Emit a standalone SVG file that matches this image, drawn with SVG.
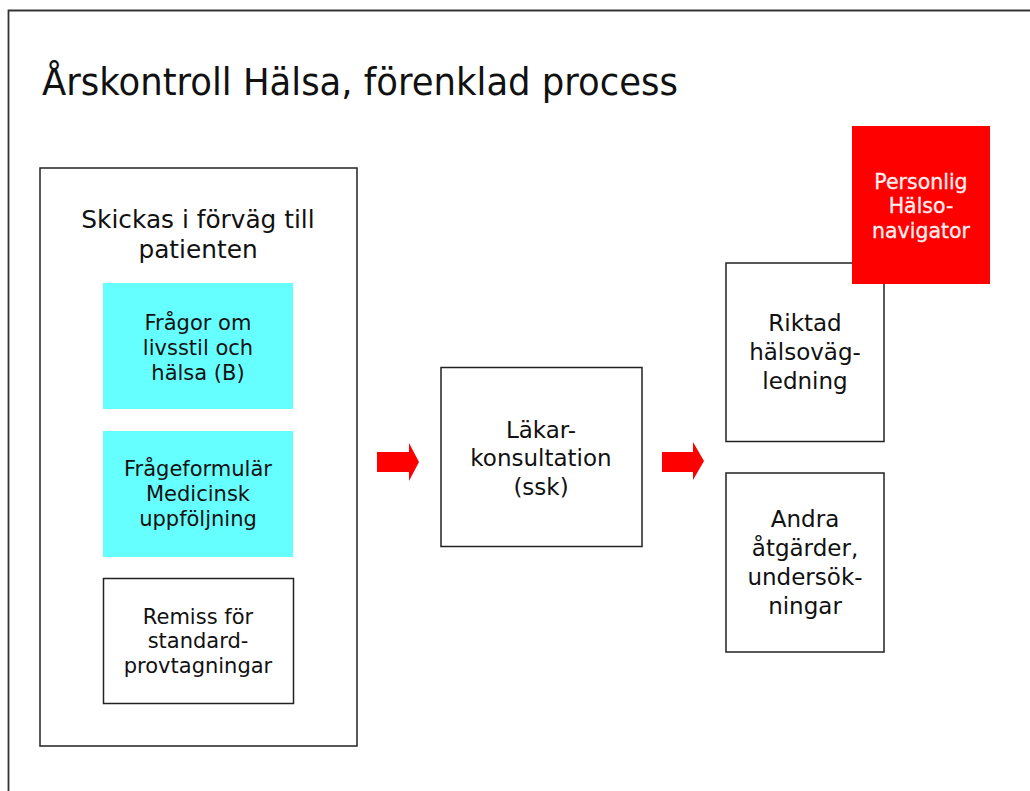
<svg xmlns="http://www.w3.org/2000/svg" width="1030" height="791" viewBox="0 0 1030 791">
<style>
text{font-family:"DejaVu Sans",Verdana,sans-serif;fill:#111;text-anchor:middle}
.box{fill:#fff;stroke:#222;stroke-width:1.5}
.cyan{fill:#66FFFF;stroke:none}
.red{fill:#FF0000;stroke:none}
.arrow{fill:#FF0000;stroke:none}
.t24{font-size:23px}
.t25{font-size:24.8px}
.t20{font-size:21px}
.w{fill:#FFEFEF;font-size:20.5px;stroke:#FFEFEF;stroke-width:0.3}
</style>
<rect x="0" y="0" width="1030" height="791" fill="#fff"/>
<path d="M8.5 791 V10.5 H1030" fill="none" stroke="#333" stroke-width="1.8"/>
<text x="42" y="95" style="text-anchor:start;font-size:37px" textLength="636" lengthAdjust="spacingAndGlyphs">Årskontroll Hälsa, förenklad process</text>

<g id="container">
<rect class="box" x="40" y="168" width="317" height="578"/>
<text class="t25" x="198" y="228">Skickas i förväg till</text>
<text class="t25" x="198" y="258">patienten</text>
</g>
<g id="fragor">
<rect class="cyan" x="103" y="283" width="190" height="126"/>
<text class="t20" x="198" y="330">Frågor om</text>
<text class="t20" x="198" y="355">livsstil och</text>
<text class="t20" x="198" y="380">hälsa (B)</text>
</g>
<g id="frageformular">
<rect class="cyan" x="103" y="431" width="190" height="126"/>
<text class="t20" x="198" y="476">Frågeformulär</text>
<text class="t20" x="198" y="501">Medicinsk</text>
<text class="t20" x="198" y="526">uppföljning</text>
</g>
<g id="remiss">
<rect class="box" x="103.5" y="578.5" width="190" height="125"/>
<text class="t20" x="198" y="624">Remiss för</text>
<text class="t20" x="198" y="648">standard-</text>
<text class="t20" x="198" y="673">provtagningar</text>
</g>
<g id="lakar">
<rect class="box" x="441" y="367.5" width="201" height="179"/>
<text class="t24" x="541" y="438">Läkar-</text>
<text class="t24" x="541" y="466">konsultation</text>
<text class="t24" x="541" y="495">(ssk)</text>
</g>
<g id="riktad">
<rect class="box" x="726" y="263" width="158" height="178.5"/>
<text class="t24" x="805" y="331">Riktad</text>
<text class="t24" x="805" y="360">hälsoväg-</text>
<text class="t24" x="805" y="389">ledning</text>
</g>
<g id="navigator">
<rect class="red" x="852" y="126" width="138" height="158"/>
<text class="w" x="921" y="189">Personlig</text>
<text class="w" x="921" y="213">Hälso-</text>
<text class="w" x="921" y="238">navigator</text>
</g>
<g id="andra">
<rect class="box" x="726" y="473" width="158" height="179"/>
<text class="t24" x="805" y="527">Andra</text>
<text class="t24" x="805" y="556">åtgärder,</text>
<text class="t24" x="805" y="585">undersök-</text>
<text class="t24" x="805" y="614">ningar</text>
</g>
<g id="connectors">
<polygon class="arrow" points="377,452 409,452 409,443 419,462 409,481 409,472 377,472"/>
<polygon class="arrow" points="662,452 693,452 693,442 704,461 693,480 693,472 662,472"/>
</g>
</svg>
